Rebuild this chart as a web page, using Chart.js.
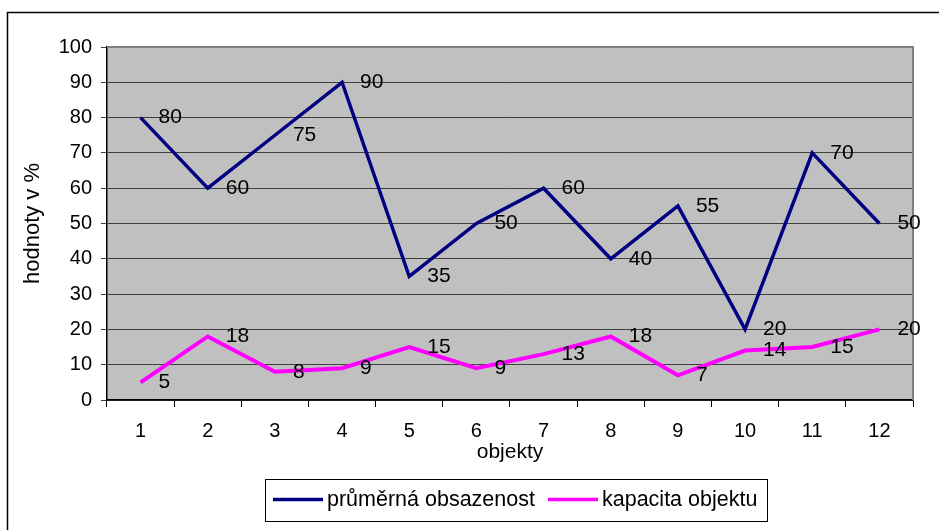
<!DOCTYPE html>
<html>
<head>
<meta charset="utf-8">
<script src="https://cdn.jsdelivr.net/npm/chart.js@4.4.1/dist/chart.umd.min.js"></script>
<style>
  html, body { margin: 0; padding: 0; background: #ffffff; }
  #wrap { position: relative; width: 939px; height: 530px; }
</style>
</head>
<body>
<div id="wrap"><canvas id="c" width="939" height="530"></canvas></div>
<script>
const categories = ['1','2','3','4','5','6','7','8','9','10','11','12'];
const obsazenost = [80, 60, 75, 90, 35, 50, 60, 40, 55, 20, 70, 50];
const kapacita = [5, 18, 8, 9, 15, 9, 13, 18, 7, 14, 15, 20];
const seriesNames = ['průměrná obsazenost', 'kapacita objektu'];
const yTitle = 'hodnoty v %';
const xTitle = 'objekty';

const FONT = '"Liberation Sans", Arial, sans-serif';

const decor = {
  id: 'decor',
  beforeDraw(chart) {
    const {ctx, chartArea: a} = chart;
    ctx.save();
    ctx.fillStyle = '#ffffff';
    ctx.fillRect(0, 0, chart.width, chart.height);
    ctx.strokeStyle = '#000000';
    ctx.lineWidth = 1.5;
    ctx.beginPath();
    ctx.moveTo(7.5, 530);
    ctx.lineTo(7.5, 12.5);
    ctx.lineTo(939, 12.5);
    ctx.stroke();
    ctx.fillStyle = '#C0C0C0';
    ctx.fillRect(a.left, a.top, a.right - a.left, a.bottom - a.top);
    ctx.restore();
  },
  afterDraw(chart) {
    const {ctx, chartArea: a} = chart;
    ctx.save();
    ctx.strokeStyle = '#808080';
    ctx.lineWidth = 2;
    ctx.beginPath();
    ctx.moveTo(a.left, a.top);
    ctx.lineTo(a.right, a.top);
    ctx.lineTo(a.right, a.bottom);
    ctx.stroke();
    ctx.fillStyle = '#000000';
    ctx.textAlign = 'center';
    ctx.textBaseline = 'middle';
    ctx.font = '21px ' + FONT;
    ctx.fillText(xTitle, (a.left + a.right) / 2, 452);
    ctx.save();
    ctx.translate(33, (a.top + a.bottom) / 2);
    ctx.rotate(-Math.PI / 2);
    ctx.font = '22px ' + FONT;
    ctx.fillText(yTitle, 0, 0);
    ctx.restore();
    ctx.font = '21px ' + FONT;
    ctx.textAlign = 'left';
    ctx.textBaseline = 'middle';
    chart.data.datasets.forEach((ds, i) => {
      const meta = chart.getDatasetMeta(i);
      meta.data.forEach((p, j) => {
        ctx.fillText(String(ds.data[j]), p.x + 18, p.y);
      });
    });
    ctx.strokeStyle = '#000000';
    ctx.lineWidth = 1;
    ctx.strokeRect(265.5, 479.5, 502, 42);
    ctx.font = '21.5px ' + FONT;
    const items = [
      {x: 273, color: chart.data.datasets[0].borderColor, label: chart.data.datasets[0].label},
      {x: 548, color: chart.data.datasets[1].borderColor, label: chart.data.datasets[1].label}
    ];
    items.forEach(it => {
      ctx.strokeStyle = it.color;
      ctx.lineWidth = 3.5;
      ctx.beginPath();
      ctx.moveTo(it.x, 499.5);
      ctx.lineTo(it.x + 50, 499.5);
      ctx.stroke();
      ctx.fillStyle = '#000000';
      ctx.fillText(it.label, it.x + 54, 500);
    });
    ctx.restore();
  }
};

new Chart(document.getElementById('c'), {
  type: 'line',
  data: {
    labels: categories,
    datasets: [
      { label: seriesNames[0], data: obsazenost, borderColor: '#000080', borderWidth: 3.5, pointRadius: 0, tension: 0, fill: false },
      { label: seriesNames[1], data: kapacita, borderColor: '#FF00FF', borderWidth: 4, pointRadius: 0, tension: 0, fill: false }
    ]
  },
  options: {
    responsive: false,
    animation: false,
    devicePixelRatio: 1,
    layout: { padding: { top: 47, right: 26, bottom: 0, left: 0 } },
    plugins: { legend: { display: false }, tooltip: { enabled: false }, title: { display: false } },
    scales: {
      x: {
        offset: true,
        afterFit: (s) => { s.height = 130; },
        grid: { offset: true, drawOnChartArea: false, tickLength: 7, color: '#000000', lineWidth: 1 },
        border: { color: '#000000', width: 1.5 },
        ticks: { padding: 12, color: '#000000', font: { family: FONT, size: 20 }, maxRotation: 0 }
      },
      y: {
        min: 0, max: 100,
        afterFit: (s) => { s.width = 107; },
        grid: { color: '#404040', lineWidth: 1, tickLength: 6 },
        border: { color: '#000000', width: 1.5 },
        ticks: { stepSize: 10, padding: 9, color: '#000000', font: { family: FONT, size: 20 } }
      }
    }
  },
  plugins: [decor]
});
</script>
</body>
</html>
